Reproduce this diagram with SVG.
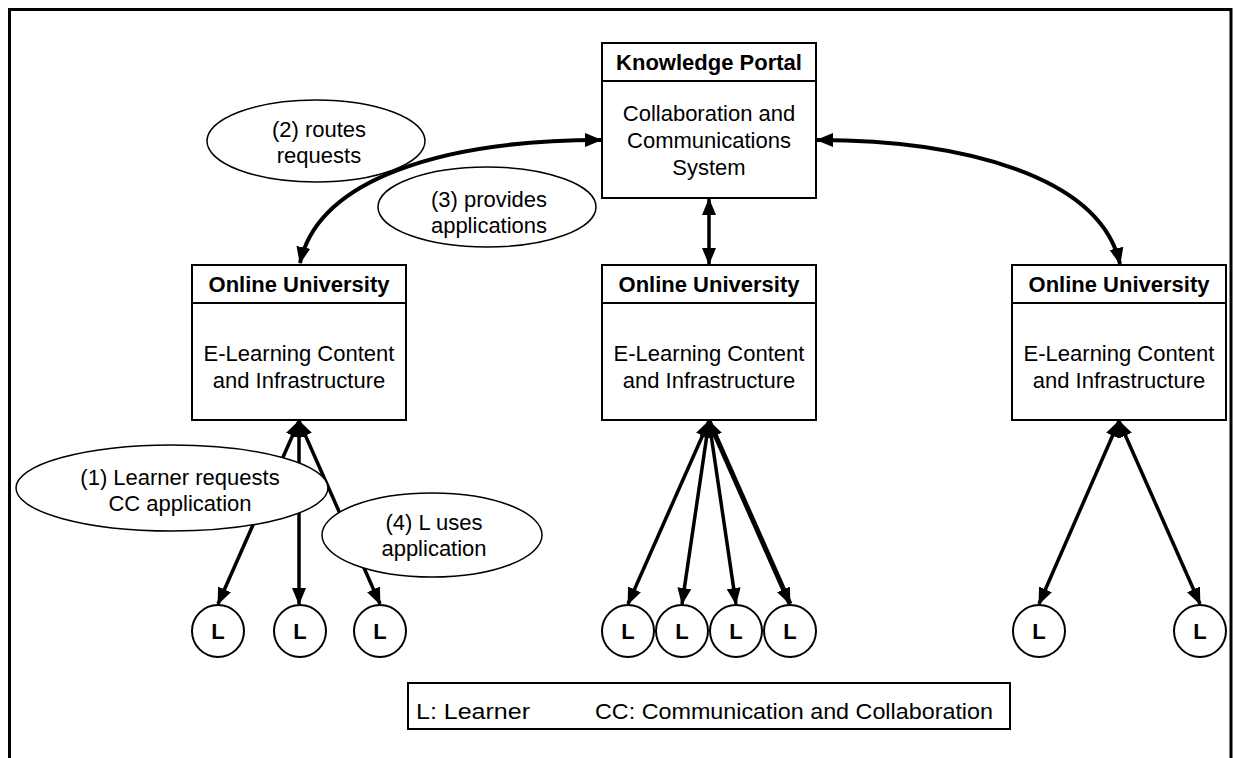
<svg xmlns="http://www.w3.org/2000/svg" width="1233" height="758" viewBox="0 0 1233 758">
<style>
.box{fill:#fff;stroke:#000;stroke-width:2}
.ell{fill:#fff;stroke:#000;stroke-width:1.5}
.t{font-family:"Liberation Sans",Arial,sans-serif;font-size:22px;fill:#000;text-anchor:middle}
.b{font-weight:bold}
.c{fill:none;stroke:#000;stroke-width:3.5;marker-start:url(#ah);marker-end:url(#ah)}
.cv{fill:none;stroke:#000;stroke-width:4;marker-start:url(#ah);marker-end:url(#ah)}
</style>
<defs>
<marker id="ah" markerUnits="userSpaceOnUse" markerWidth="17" markerHeight="16" refX="16" refY="8" orient="auto-start-reverse" viewBox="0 0 17 16">
<path d="M0,1 L17,8 L0,15 z" fill="#000"/>
</marker>
</defs>
<rect width="1233" height="758" fill="#fff"/>
<path d="M9.5,758 V9.5 H1231 V758" fill="none" stroke="#000" stroke-width="3"/>

<g id="connectors">
<path class="cv" d="M300,263 C318,180 440,140 601,140"/>
<path class="cv" d="M817,140 C960,140 1100,175 1120,264"/>
<line class="c" x1="709" y1="199" x2="709" y2="264"/>
<line class="c" x1="299" y1="421" x2="218" y2="604"/>
<line class="c" x1="299" y1="421" x2="299" y2="604"/>
<line class="c" x1="299" y1="421" x2="380" y2="604"/>
<line class="c" x1="709" y1="421" x2="628" y2="604"/>
<line class="c" x1="709" y1="421" x2="682" y2="604"/>
<line class="c" x1="709" y1="421" x2="736" y2="604"/>
<line class="c" x1="709" y1="421" x2="790" y2="604" style="stroke-width:5"/>
<line class="c" x1="1119" y1="421" x2="1039" y2="604"/>
<line class="c" x1="1119" y1="421" x2="1200" y2="604"/>
</g>

<g id="portal">
<rect class="box" x="602" y="43" width="214" height="155"/>
<line x1="602" y1="81" x2="816" y2="81" stroke="#000" stroke-width="2"/>
<text class="t b" x="709" y="70">Knowledge Portal</text>
<text class="t" x="709" y="121">Collaboration and</text>
<text class="t" x="709" y="148">Communications</text>
<text class="t" x="709" y="175">System</text>
</g>

<g id="univ1">
<rect class="box" x="192" y="265" width="214" height="155"/>
<line x1="192" y1="303" x2="406" y2="303" stroke="#000" stroke-width="2"/>
<text class="t b" x="299" y="292">Online University</text>
<text class="t" x="299" y="361">E-Learning Content</text>
<text class="t" x="299" y="388">and Infrastructure</text>
</g>
<g id="univ2">
<rect class="box" x="602" y="265" width="214" height="155"/>
<line x1="602" y1="303" x2="816" y2="303" stroke="#000" stroke-width="2"/>
<text class="t b" x="709" y="292">Online University</text>
<text class="t" x="709" y="361">E-Learning Content</text>
<text class="t" x="709" y="388">and Infrastructure</text>
</g>
<g id="univ3">
<rect class="box" x="1012" y="265" width="214" height="155"/>
<line x1="1012" y1="303" x2="1226" y2="303" stroke="#000" stroke-width="2"/>
<text class="t b" x="1119" y="292">Online University</text>
<text class="t" x="1119" y="361">E-Learning Content</text>
<text class="t" x="1119" y="388">and Infrastructure</text>
</g>

<g id="label2">
<ellipse class="ell" cx="316" cy="141" rx="109" ry="41"/>
<text class="t" x="319" y="137">(2) routes</text>
<text class="t" x="319" y="163">requests</text>
</g>
<g id="label3">
<ellipse class="ell" cx="487" cy="207" rx="109" ry="40"/>
<text class="t" x="489" y="207">(3) provides</text>
<text class="t" x="489" y="233">applications</text>
</g>
<g id="label1">
<ellipse class="ell" cx="172" cy="488" rx="156" ry="43"/>
<text class="t" x="180" y="485">(1) Learner requests</text>
<text class="t" x="180" y="511">CC application</text>
</g>
<g id="label4">
<ellipse class="ell" cx="432" cy="535" rx="110" ry="42"/>
<text class="t" x="434" y="530">(4) L uses</text>
<text class="t" x="434" y="556">application</text>
</g>

<g id="learners">
<g id="L1"><circle class="box" cx="218" cy="631" r="26"/><text class="t b" x="218" y="639">L</text></g>
<g id="L2"><circle class="box" cx="300" cy="631" r="26"/><text class="t b" x="300" y="639">L</text></g>
<g id="L3"><circle class="box" cx="380" cy="631" r="26"/><text class="t b" x="380" y="639">L</text></g>
<g id="L4"><circle class="box" cx="628" cy="631" r="26"/><text class="t b" x="628" y="639">L</text></g>
<g id="L5"><circle class="box" cx="682" cy="631" r="26"/><text class="t b" x="682" y="639">L</text></g>
<g id="L6"><circle class="box" cx="736" cy="631" r="26"/><text class="t b" x="736" y="639">L</text></g>
<g id="L7"><circle class="box" cx="790" cy="631" r="26"/><text class="t b" x="790" y="639">L</text></g>
<g id="L8"><circle class="box" cx="1039" cy="631" r="26"/><text class="t b" x="1039" y="639">L</text></g>
<g id="L9"><circle class="box" cx="1200" cy="631" r="26"/><text class="t b" x="1200" y="639">L</text></g>
</g>

<g id="legend">
<rect class="box" x="408" y="683" width="602" height="46"/>
<text class="t" x="416" y="719" style="text-anchor:start" textLength="114" lengthAdjust="spacingAndGlyphs">L: Learner</text>
<text class="t" x="595" y="719" style="text-anchor:start" textLength="398" lengthAdjust="spacingAndGlyphs">CC: Communication and Collaboration</text>
</g>
</svg>
